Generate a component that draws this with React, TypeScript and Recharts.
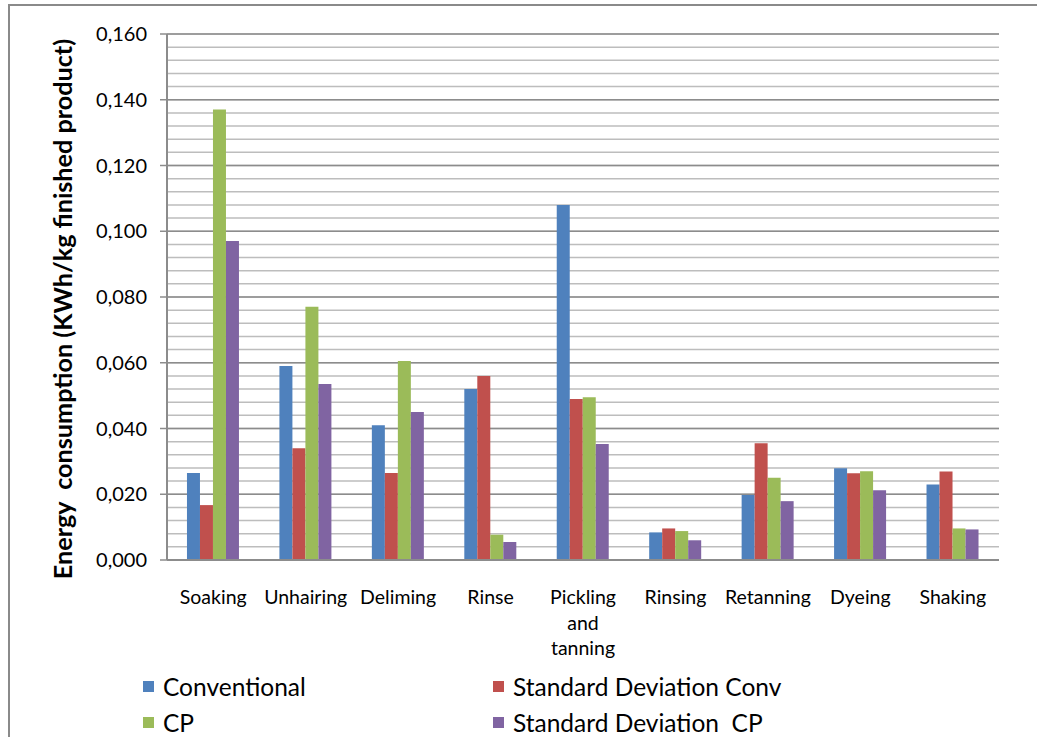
import React from 'react';
import { BarChart, Bar, XAxis, YAxis, CartesianGrid, Legend } from 'recharts';

const categories = ['Soaking', 'Unhairing', 'Deliming', 'Rinse', 'Pickling and tanning', 'Rinsing', 'Retanning', 'Dyeing', 'Shaking'];
const conventional = [0.0265, 0.059, 0.041, 0.052, 0.108, 0.0084, 0.0198, 0.0279, 0.023];
const sdConv = [0.0167, 0.034, 0.0265, 0.056, 0.049, 0.0096, 0.0355, 0.0264, 0.0269];
const cp = [0.137, 0.077, 0.0605, 0.0077, 0.0495, 0.0088, 0.025, 0.027, 0.0096];
const sdCp = [0.097, 0.0535, 0.045, 0.0055, 0.0353, 0.006, 0.0179, 0.0212, 0.0093];

const majorTicks = [0, 0.02, 0.04, 0.06, 0.08, 0.1, 0.12, 0.14, 0.16];
const minorTicks = [
  0, 0.004, 0.008, 0.012, 0.016, 0.02, 0.024, 0.028, 0.032, 0.036, 0.04, 0.044, 0.048, 0.052,
  0.056, 0.06, 0.064, 0.068, 0.072, 0.076, 0.08, 0.084, 0.088, 0.092, 0.096, 0.1, 0.104, 0.108,
  0.112, 0.116, 0.12, 0.124, 0.128, 0.132, 0.136, 0.14, 0.144, 0.148, 0.152, 0.156, 0.16,
];
const yMax = 0.16;

const series = [
  { key: 'conventional', name: 'Conventional', color: '#4F81BD' },
  { key: 'sdConv', name: 'Standard Deviation Conv', color: '#C0504D' },
  { key: 'cp', name: 'CP', color: '#9BBB59' },
  { key: 'sdCp', name: 'Standard Deviation  CP', color: '#8064A2' },
];

const data = categories.map((name, i) => ({
  name,
  conventional: conventional[i],
  sdConv: sdConv[i],
  cp: cp[i],
  sdCp: sdCp[i],
}));

const FONT = 'Lato, "Open Sans", sans-serif';

// minor gridlines every 0.004, through the axis scale when it is given
const minorLines = ({ yAxis, offset }: any) => {
  if (yAxis && typeof yAxis.scale === 'function') {
    return minorTicks.map((v) => yAxis.scale(v));
  }
  return minorTicks.map((v) => offset.top + offset.height * (1 - v / yMax));
};

const CategoryTick = (props: any) => {
  const { x, y, payload } = props;
  const words: string[] = payload.value === 'Pickling and tanning' ? ['Pickling', 'and', 'tanning'] : [payload.value];
  return (
    <g transform={`translate(${x},${y})`}>
      {words.map((w, i) => (
        <text key={i} x={0} y={36 + i * 25.5} textAnchor="middle" fontSize={19.5} fill="#000" fontFamily={FONT}>
          {w}
        </text>
      ))}
    </g>
  );
};

const YLabel = () => (
  <text
    x={62}
    y={309}
    transform="rotate(-90, 62, 309)"
    textAnchor="middle"
    dominantBaseline="central"
    fontSize={25.2}
    fontWeight="bold"
    fill="#000"
    fontFamily={FONT}
    style={{ whiteSpace: 'pre' }}
  >
    {'Energy  consumption (KWh/kg finished product)'}
  </text>
);

const LegendContent = () => (
  <div style={{ position: 'relative', height: 72, fontFamily: FONT, fontSize: 24.5, color: '#000' }}>
    {series.map((s, i) => (
      <div
        key={s.key}
        style={{
          position: 'absolute',
          left: i % 2 === 0 ? 143 : 493,
          top: 8 + Math.floor(i / 2) * 36,
          height: 36,
          display: 'flex',
          alignItems: 'center',
          whiteSpace: 'pre',
        }}
      >
        <span style={{ display: 'inline-block', width: 11, height: 11, background: s.color, marginRight: 9 }} />
        {s.name}
      </div>
    ))}
  </div>
);

export default function App() {
  return (
    <div style={{ position: 'absolute', left: 0, top: 0, width: 1037, height: 737, overflow: 'hidden', background: '#fff' }}>
      <div
        style={{
          position: 'absolute',
          left: 8,
          top: 4,
          width: 1060,
          height: 760,
          border: '2px solid #8a8a8a',
          boxSizing: 'border-box',
        }}
      />
      <BarChart
        width={1037}
        height={737}
        data={data}
        margin={{ top: 34, right: 38, bottom: 5, left: 0 }}
        barGap={0}
        barCategoryGap="21.6%"
      >
        <CartesianGrid
          vertical={false}
          stroke="#bdbdbd"
          strokeWidth={1.5}
          horizontalCoordinatesGenerator={minorLines}
        />
        <CartesianGrid vertical={false} stroke="#8c8c8c" strokeWidth={1.5} />
        <XAxis
          dataKey="name"
          height={100}
          tickLine={false}
          axisLine={{ stroke: '#8c8c8c', strokeWidth: 2 }}
          tick={<CategoryTick />}
          interval={0}
        />
        <YAxis
          width={167}
          domain={[0, yMax]}
          ticks={majorTicks}
          tickSize={7}
          tickMargin={13}
          axisLine={{ stroke: '#8c8c8c', strokeWidth: 2 }}
          tickLine={{ stroke: '#8c8c8c', strokeWidth: 1.5 }}
          tick={{ fontSize: 20, fill: '#000', fontFamily: FONT }}
          tickFormatter={(v: number) => v.toFixed(3).replace('.', ',')}
          label={<YLabel />}
        />
        {series.map((s) => (
          <Bar key={s.key} dataKey={s.key} name={s.name} fill={s.color} isAnimationActive={false} />
        ))}
        <Legend verticalAlign="bottom" height={72} content={<LegendContent />} />
      </BarChart>
    </div>
  );
}
